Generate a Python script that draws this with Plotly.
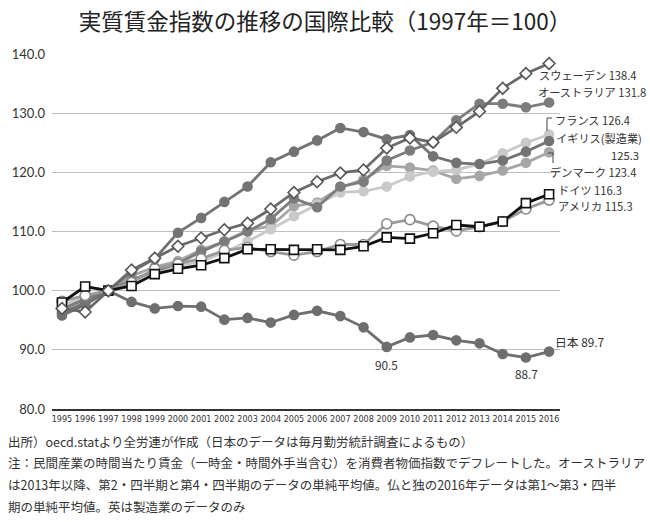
import plotly.graph_objects as go

years = list(range(1995, 2017))
year_labels = [str(y) for y in years]

sweden    = [97.0, 96.4, 100, 103.5, 105.5, 107.5, 108.9, 110.3, 111.4, 113.8, 116.6, 118.4, 119.9, 120.4, 124.1, 125.8, 125.1, 127.6, 130.3, 134.2, 136.7, 138.4]
australia = [96.9, 98.6, 100, 101.8, 103.3, 104.6, 106.6, 108.3, 110.0, 112.1, 115.6, 114.1, 117.6, 118.4, 122.0, 123.7, 125.1, 128.8, 131.6, 131.6, 131.0, 131.8]
uk        = [96.2, 97.9, 100, 103.2, 105.4, 109.8, 112.3, 115.0, 117.6, 121.7, 123.5, 125.4, 127.5, 126.8, 125.6, 126.3, 122.7, 121.6, 121.4, 122.0, 123.5, 125.3]
france    = [97.5, 98.9, 100, 101.2, 103.0, 104.2, 104.9, 106.5, 108.3, 110.4, 112.6, 114.6, 116.6, 116.8, 117.6, 119.3, 120.1, 120.4, 121.4, 123.2, 125.0, 126.4]
denmark   = [96.4, 98.4, 100, 102.5, 104.0, 105.0, 106.9, 108.3, 110.2, 110.9, 114.3, 114.9, 117.4, 118.8, 121.1, 120.8, 120.3, 118.9, 119.4, 120.3, 121.6, 123.4]
germany   = [98.0, 100.7, 100, 100.8, 102.8, 103.7, 104.3, 105.5, 107.0, 107.0, 106.9, 107.0, 106.9, 107.5, 109.0, 108.8, 109.7, 111.1, 110.8, 111.7, 114.8, 116.3]
usa       = [98.2, 99.2, 100, 101.4, 103.7, 104.5, 105.4, 106.8, 107.3, 106.6, 106.0, 106.6, 107.8, 107.8, 111.3, 112.0, 110.9, 110.1, 110.8, 111.7, 113.8, 115.3]
japan     = [95.8, 97.6, 100, 98.1, 97.0, 97.4, 97.3, 95.1, 95.4, 94.6, 95.9, 96.6, 95.7, 93.8, 90.5, 92.1, 92.5, 91.6, 91.1, 89.3, 88.7, 89.7]

y_ticks = [80, 90, 100, 110, 120, 130, 140]

title_text = "実質賃金指数の推移の国際比較（1997年＝100）"
notes = [
    "出所）oecd.statより全労連が作成（日本のデータは毎月勤労統計調査によるもの）",
    "注：民間産業の時間当たり賃金（一時金・時間外手当含む）を消費者物価指数でデフレートした。オーストラリア",
    "は2013年以降、第2・四半期と第4・四半期のデータの単純平均値。仏と独の2016年データは第1～第3・四半",
    "期の単純平均値。英は製造業のデータのみ",
]

W, H = 650, 522
L, R, T, B = 52, 90, 54, 113
PW, PH = W - L - R, H - T - B

def px(x):
    return (x - L) / PW

def py(y):
    return (H - B - y) / PH

JP = "Noto Sans CJK JP, sans-serif"
NUM = "Lato, Noto Sans CJK JP, sans-serif"

fig = go.Figure()

def add(name, vals, color, symbol, mcolor, mline, size):
    fig.add_trace(go.Scatter(
        x=years, y=vals, name=name, mode="lines+markers",
        line=dict(color=color, width=2.8),
        marker=dict(symbol=symbol, size=size, color=mcolor,
                    line=dict(color=mline, width=1.6)),
        cliponaxis=False, hoverinfo="skip",
    ))

add("日本", japan, "#6e6e6e", "circle", "#6e6e6e", "#6e6e6e", 9)
add("デンマーク", denmark, "#a6a6a6", "circle", "#a6a6a6", "#a6a6a6", 9)
add("フランス", france, "#c9c9c9", "circle", "#c9c9c9", "#c9c9c9", 9)
add("オーストラリア", australia, "#7c7c7c", "circle", "#7c7c7c", "#7c7c7c", 9)
add("イギリス", uk, "#737373", "circle", "#737373", "#737373", 9)
add("アメリカ", usa, "#9a9a9a", "circle", "#ffffff", "#8a8a8a", 10)
add("ドイツ", germany, "#111111", "square", "#ffffff", "#111111", 9)
add("スウェーデン", sweden, "#6a6a6a", "diamond", "#ffffff", "#555555", 9)

ann = []
def label(text, x, y, xanchor="left", size=11.2, font=JP):
    ann.append(dict(text=text, x=px(x), y=py(y), xref="paper", yref="paper",
                    xanchor=xanchor, yanchor="middle", showarrow=False,
                    font=dict(family=font, size=size, color="#333333")))

label("スウェーデン 138.4", 537, 75)
label("オーストラリア 131.8", 536, 92)
label("フランス 126.4", 553, 120)
label("イギリス(製造業)", 554, 138)
label("125.3", 641, 155, xanchor="right")
label("デンマーク 123.4", 548, 172)
label("ドイツ 116.3", 556, 190)
label("アメリカ 115.3", 556, 206)
label("日本 89.7", 553, 341, size=11.8)
label("90.5", 386, 364, xanchor="center", size=11.8)
label("88.7", 526, 373, xanchor="center", size=11.8)

for i, t in enumerate(notes):
    ann.append(dict(text=t, x=px(6), y=py(441 + i * 21.7), xref="paper", yref="paper",
                    xanchor="left", yanchor="middle", showarrow=False,
                    font=dict(family=JP, size=12.5, color="#333333")))

shapes = [
    dict(type="path", xref="paper", yref="paper",
         path=f"M {px(547)},{py(131)} L {px(547)},{py(118)} L {px(552)},{py(118)}",
         line=dict(color="#444444", width=1)),
    dict(type="path", xref="paper", yref="paper",
         path=f"M {px(548)},{py(153)} L {px(553)},{py(153)} L {px(553)},{py(163)}",
         line=dict(color="#444444", width=1)),
]

fig.update_layout(
    width=W, height=H,
    margin=dict(l=L, r=R, t=T, b=B, autoexpand=False),
    paper_bgcolor="white", plot_bgcolor="white",
    showlegend=False, hovermode=False,
    title=dict(text=title_text, x=0.5, xanchor="center", y=1 - 22 / H, yanchor="middle",
               font=dict(family=JP, size=22.5, color="#222222")),
    annotations=ann,
    shapes=shapes,
    xaxis=dict(range=[1994.57, 2016.47], tickmode="array", tickvals=years, ticktext=year_labels,
               showgrid=False, zeroline=False, showline=True, linecolor="#333333", linewidth=1.5,
               ticks="", tickangle=0, automargin=False,
               tickfont=dict(family="DejaVu Sans Condensed, Liberation Sans Narrow, Roboto, sans-serif",
                             size=9, color="#333333")),
    yaxis=dict(range=[80, 140], tickmode="array", tickvals=y_ticks, tickformat=".1f",
               showgrid=True, gridcolor="#bdbdbd", gridwidth=1.2, zeroline=False, showline=False,
               ticks="", ticklabelstandoff=6, automargin=False,
               tickfont=dict(family=NUM, size=13, color="#333333")),
)

fig.write_html("out.html", config={"displayModeBar": False},
               post_script="document.body.style.margin='0';document.body.style.overflow='hidden';")
